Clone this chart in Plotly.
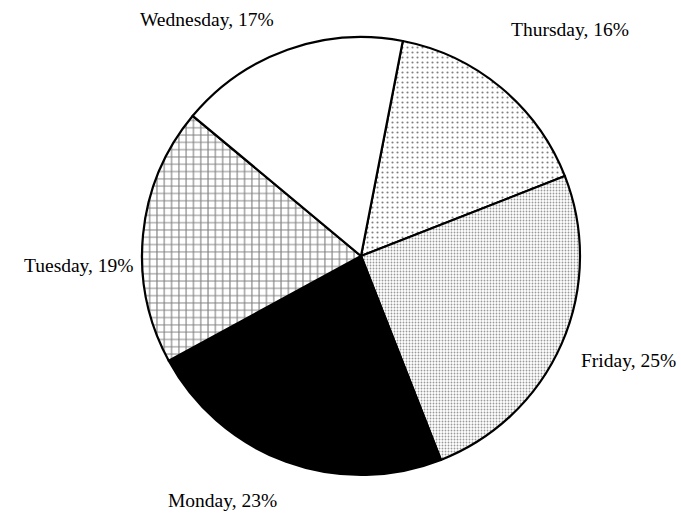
import plotly.graph_objects as go

days = ["Thursday", "Friday", "Monday", "Tuesday", "Wednesday"]
shares = [16, 25, 23, 19, 17]

W, H = 681, 517
fills = ["white", "white", "black", "white", "white"]
shapes = [".", ".", "", "+", ""]
fg = ["black", "#333333", "black", "black", "black"]
psize = [5, 3, 8, 7.3, 8]
psol = [0.14, 0.3, 0.3, 0.28, 0.3]

fig = go.Figure(go.Pie(
    labels=days, values=shares, sort=False, direction="clockwise",
    rotation=11, textinfo="none", hoverinfo="label+percent",
    domain=dict(x=[142 / W, 580 / W], y=[1 - 475 / H, 1 - 37 / H]),
    marker=dict(colors=fills, line=dict(color="black", width=2.2),
                pattern=dict(shape=shapes, fgcolor=fg, bgcolor=fills,
                             size=psize, solidity=psol, fillmode="overlay")),
    showlegend=False,
))

# label centre positions (pixels) for each day, in the same order as `days`
label_pos = [(570, 29), (628, 360), (222, 500), (79, 265), (207, 19)]
for d, s, (px, py) in zip(days, shares, label_pos):
    fig.add_annotation(x=px / W, y=1 - py / H,
                       xref="paper", yref="paper",
                       xanchor="center", yanchor="middle",
                       text=f"{d}, {s}%", showarrow=False,
                       font=dict(family="Liberation Serif", size=19.5, color="black"))

fig.update_layout(width=W, height=H, margin=dict(l=0, r=0, t=0, b=0),
                  paper_bgcolor="white", plot_bgcolor="white")
fig.write_html("out.html", config={"displayModeBar": False},
               post_script="document.body.style.margin='0';document.body.style.overflow='hidden';")
